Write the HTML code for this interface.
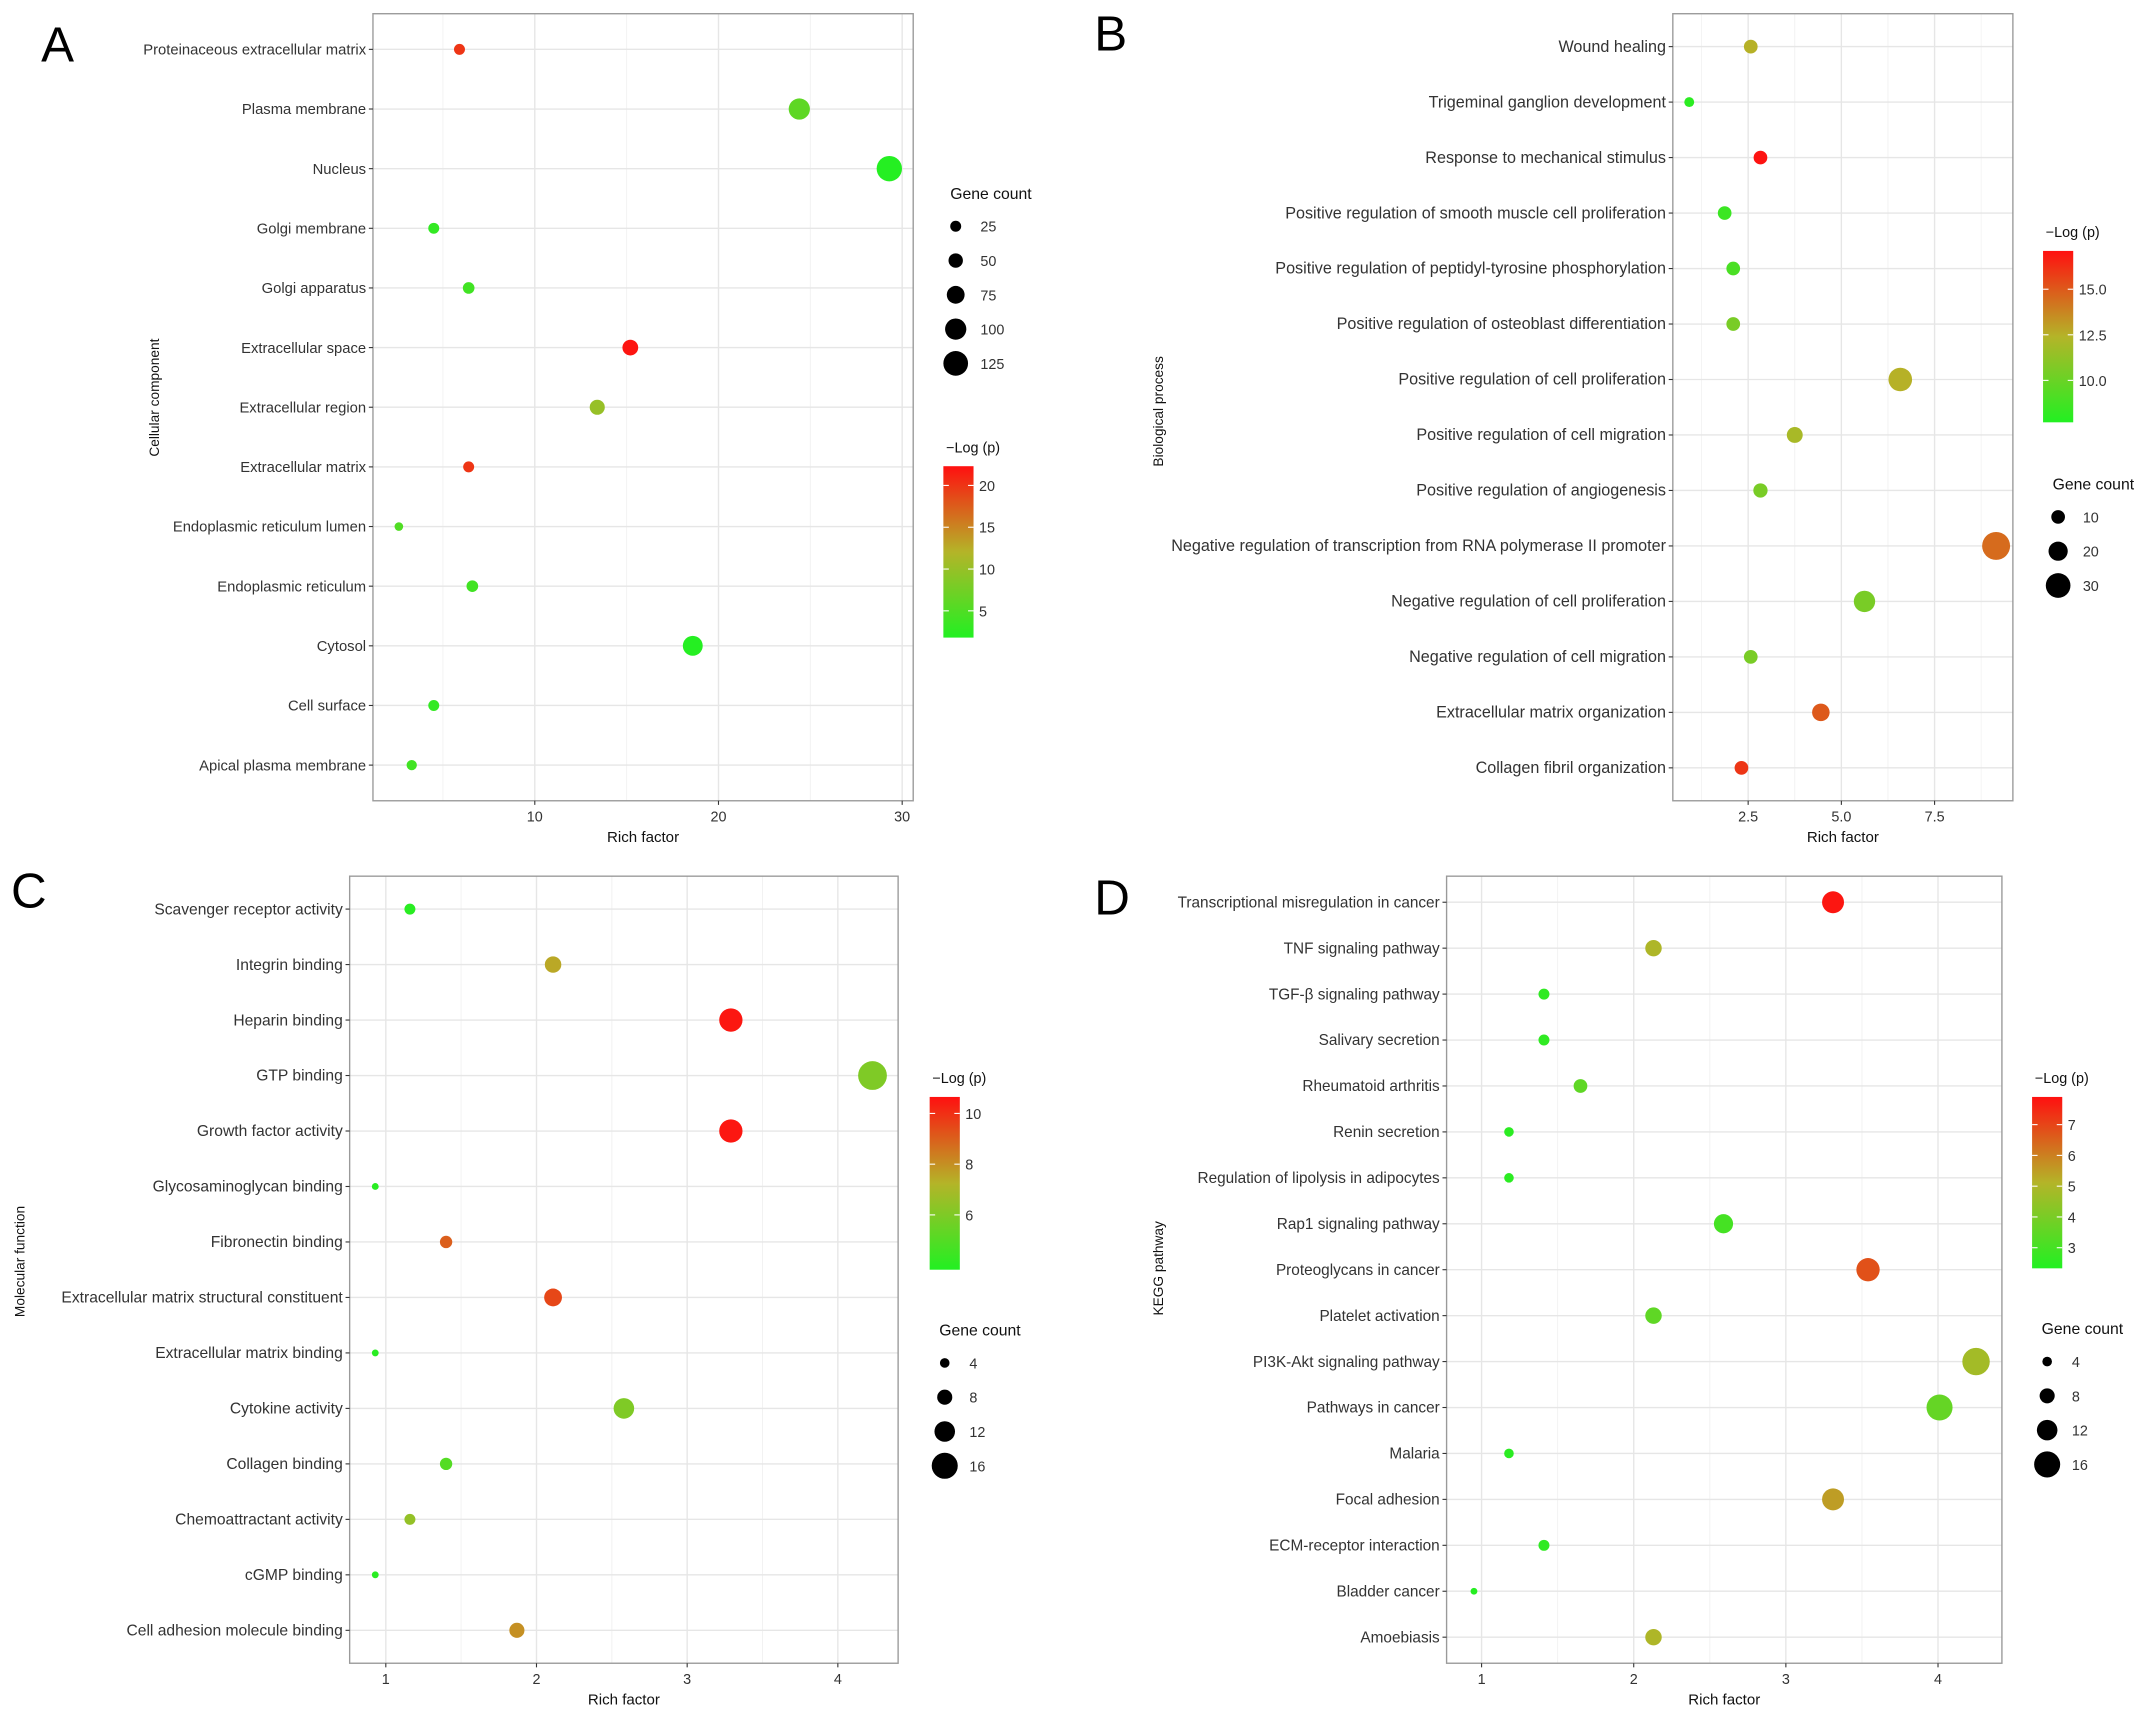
<!DOCTYPE html>
<html><head><meta charset="utf-8">
<style>
html,body{margin:0;padding:0;background:#fff;}
svg{display:block;font-family:"Liberation Sans",sans-serif;}
</style></head>
<body>
<svg id="fig" width="2150" height="1720" viewBox="0 0 1568 1254.4" preserveAspectRatio="none" xmlns="http://www.w3.org/2000/svg">
<defs>
<linearGradient id="cgrad" x1="0" y1="1" x2="0" y2="0">
<stop offset="0" stop-color="#22f022"/><stop offset="0.5" stop-color="#b4b428"/><stop offset="1" stop-color="#ff1010"/>
</linearGradient>
</defs>
</svg>
<script>
// Panel A data
const aCats=["Proteinaceous extracellular matrix","Plasma membrane","Nucleus","Golgi membrane","Golgi apparatus","Extracellular space","Extracellular region","Extracellular matrix","Endoplasmic reticulum lumen","Endoplasmic reticulum","Cytosol","Cell surface","Apical plasma membrane"];
const aRich=[5.9,24.4,29.3,4.5,6.4,15.2,13.4,6.4,2.6,6.6,18.6,4.5,3.3];
const aCount=[25,100,130,25,30,60,55,25,8,30,90,25,20];
const aLogp=[20,6,2,3,4,22,10,20,5,4,2,3,4];
const aXTicks=[10,20,30];
const aSizeTicks=[25,50,75,100,125];
const aColorTicks=[5,10,15,20];
// Panel B data
const bCats=["Wound healing","Trigeminal ganglion development","Response to mechanical stimulus","Positive regulation of smooth muscle cell proliferation","Positive regulation of peptidyl-tyrosine phosphorylation","Positive regulation of osteoblast differentiation","Positive regulation of cell proliferation","Positive regulation of cell migration","Positive regulation of angiogenesis","Negative regulation of transcription from RNA polymerase II promoter","Negative regulation of cell proliferation","Negative regulation of cell migration","Extracellular matrix organization","Collagen fibril organization"];
const bRich=[2.57,0.92,2.83,1.87,2.1,2.1,6.58,3.75,2.83,9.15,5.62,2.57,4.45,2.32];
const bCount=[10,3,10,10,10,10,28,14,11,36,24,10,17,10];
const bLogp=[12.5,8,17,8.5,9,10.5,12.5,12,10.5,14.5,10.5,10.5,15,16];
const bXTicks=[2.5,5.0,7.5];
const bSizeTicks=[10,20,30];
const bColorTicks=[10.0,12.5,15.0];
// Panel C data
const cCats=["Scavenger receptor activity","Integrin binding","Heparin binding","GTP binding","Growth factor activity","Glycosaminoglycan binding","Fibronectin binding","Extracellular matrix structural constituent","Extracellular matrix binding","Cytokine activity","Collagen binding","Chemoattractant activity","cGMP binding","Cell adhesion molecule binding"];
const cRich=[1.16,2.11,3.29,4.23,3.29,0.93,1.4,2.11,0.93,2.58,1.4,1.16,0.93,1.87];
const cCount=[5,9,14,18,14,2,6,10,2,12,6,5,2,8];
const cLogp=[4,7.5,10.5,6,10.5,4,9,9.5,4,6,5,6.5,4,8];
const cXTicks=[1,2,3,4];
const cSizeTicks=[4,8,12,16];
const cColorTicks=[6,8,10];
// Panel D data
const dCats=["Transcriptional misregulation in cancer","TNF signaling pathway","TGF-β signaling pathway","Salivary secretion","Rheumatoid arthritis","Renin secretion","Regulation of lipolysis in adipocytes","Rap1 signaling pathway","Proteoglycans in cancer","Platelet activation","PI3K-Akt signaling pathway","Pathways in cancer","Malaria","Focal adhesion","ECM-receptor interaction","Bladder cancer","Amoebiasis"];
const dRich=[3.31,2.13,1.41,1.41,1.65,1.18,1.18,2.59,3.54,2.13,4.25,4.01,1.18,3.31,1.41,0.95,2.13];
const dCount=[13,9,5,5,7,4,4,11,14,9,17,16,4,13,5,2,9];
const dLogp=[7.8,5,2.6,2.6,3.5,2.5,2.5,3,6.8,3.5,4.8,3.6,2.5,5.5,2.6,2.4,5];
const dXTicks=[1,2,3,4];
const dSizeTicks=[4,8,12,16];
const dColorTicks=[3,4,5,6,7];

const NS="http://www.w3.org/2000/svg";
const svg=document.getElementById('fig');
function mk(tag,attrs,parent){const e=document.createElementNS(NS,tag);for(const k in attrs)e.setAttribute(k,attrs[k]);(parent||svg).appendChild(e);return e;}
function hex(c){return [parseInt(c.substr(1,2),16),parseInt(c.substr(3,2),16),parseInt(c.substr(5,2),16)];}
const stops=[hex("#22f022"),hex("#b4b428"),hex("#ff1010")];
function colorAt(t){t=Math.max(0,Math.min(1,t));let a,b,u;if(t<0.5){a=stops[0];b=stops[1];u=t/0.5;}else{a=stops[1];b=stops[2];u=(t-0.5)/0.5;}return "rgb("+a.map((v,i)=>Math.round(v+(b[i]-v)*u)).join(",")+")";}

function panel(p){
  const g=mk('g',{});
  
  
  const xs=v=>p.x0+(v-p.dmin)/(p.dmax-p.dmin)*(p.x1-p.x0);
  const n=p.cats.length;
  const ys=i=>p.y0+p.pad+i*(p.y1-p.y0-2*p.pad)/(n-1);
  const cs=v=>(v-p.cmin)/(p.cmax-p.cmin);
  const rs=c=>p.ra+p.rb*c;
  for(let i=0;i<p.xt.length;i++){
    const step=p.xt.length>1?p.xt[1]-p.xt[0]:10;
    [p.xt[i]-step/2,p.xt[i]+step/2].forEach(m=>{if(m>p.dmin&&m<p.dmax){const l=mk('line',{x1:xs(m),x2:xs(m),y1:p.y0,y2:p.y1,stroke:'#f2f2f2','stroke-width':0.6},g);}});
  }
  p.xt.forEach(t=>{const l=mk('line',{x1:xs(t),x2:xs(t),y1:p.y0,y2:p.y1,stroke:'#e6e6e6','stroke-width':1},g);});
  p.cats.forEach((c,i)=>{const l=mk('line',{x1:p.x0,x2:p.x1,y1:ys(i),y2:ys(i),stroke:'#e6e6e6','stroke-width':1},g);});
  const box=mk('rect',{x:p.x0,y:p.y0,width:p.x1-p.x0,height:p.y1-p.y0,fill:'none',stroke:'#9a9a9a','stroke-width':1},g);
  
  p.cats.forEach((c,i)=>{
    const t=mk('text',{x:p.x0-5,y:ys(i)+3.8,'font-size':p.fs,'text-anchor':'end',fill:'#333'},g);t.textContent=c;
    
    mk('line',{x1:p.x0-3,x2:p.x0,y1:ys(i),y2:ys(i),stroke:'#333','stroke-width':0.8},g);
  });
  p.xt.forEach(v=>{
    const t=mk('text',{x:xs(v),y:p.y1+15,'font-size':10.5,'text-anchor':'middle',fill:'#333'},g);t.textContent=String(p.xtl?v.toFixed(1):v);
    
    mk('line',{x1:xs(v),x2:xs(v),y1:p.y1,y2:p.y1+3,stroke:'#333','stroke-width':0.8},g);
  });
  const xt=mk('text',{x:(p.x0+p.x1)/2,y:p.y1+30,'font-size':11,'text-anchor':'middle',fill:'#111'},g);xt.textContent='Rich factor';
  
  const yt=mk('text',{x:0,y:0,'font-size':10,'text-anchor':'middle',fill:'#111',transform:`translate(${p.ytx},${p.yty}) rotate(-90)`},g);yt.textContent=p.ytitle;
  
  const L=mk('text',{x:p.lx,y:p.ly,'font-size':36,fill:'#000'},g);L.textContent=p.letter;
  
  p.cats.forEach((c,i)=>{
    const d=mk('circle',{cx:xs(p.rich[i]),cy:ys(i),r:rs(p.count[i]),fill:colorAt(cs(p.logp[i]))},g);
    
  });
  const st=mk('text',{x:p.sx-4,y:p.sy-20,'font-size':11.5,fill:'#111'},g);st.textContent='Gene count';
  
  p.st.forEach((v,i)=>{
    const d=mk('circle',{cx:p.sx,cy:p.sy+i*25,r:rs(v),fill:'#000'},g);
    
    const t=mk('text',{x:p.sx+18,y:p.sy+i*25+4,'font-size':10.5,fill:'#333'},g);t.textContent=String(v);
    
  });
  const ct=mk('text',{x:p.cx+2,y:p.cy0-10,'font-size':10.5,fill:'#111'},g);ct.textContent='−Log (p)';
  
  const cb=mk('rect',{x:p.cx,y:p.cy0,width:22,height:p.cy1-p.cy0,fill:'url(#cgrad)'},g);
  
  p.ct.forEach(v=>{
    const y=p.cy1-(v-p.cmin)/(p.cmax-p.cmin)*(p.cy1-p.cy0);
    mk('line',{x1:p.cx,x2:p.cx+4,y1:y,y2:y,stroke:'#fff','stroke-width':0.8},g);
    mk('line',{x1:p.cx+18,x2:p.cx+22,y1:y,y2:y,stroke:'#fff','stroke-width':0.8},g);
    const t=mk('text',{x:p.cx+26,y:y+4,'font-size':10.5,fill:'#333'},g);t.textContent=p.ctl?v.toFixed(1):String(v);
    
  });
}

panel({name:'panel-a-cellular-component',cats:aCats,rich:aRich,count:aCount,logp:aLogp,xt:aXTicks,st:aSizeTicks,ct:aColorTicks,fs:10.8,
 x0:272,x1:666,y0:10,y1:584,pad:26,dmin:1.19,dmax:30.6,cmin:1.8,cmax:22.3,ra:2.75,rb:0.05,
 ytitle:'Cellular component',ytx:116,yty:290,letter:'A',lx:30,ly:45,sx:697,sy:165,cx:688,cy0:340,cy1:465});
panel({name:'panel-b-biological-process',cats:bCats,rich:bRich,count:bCount,logp:bLogp,xt:bXTicks,xtl:true,st:bSizeTicks,ct:bColorTicks,ctl:true,fs:11.8,
 x0:1220,x1:1468,y0:10,y1:584,pad:24,dmin:0.48,dmax:9.6,cmin:7.7,cmax:17.1,ra:3,rb:0.2,
 ytitle:'Biological process',ytx:848,yty:300,letter:'B',lx:798,ly:37,sx:1501,sy:377,cx:1490,cy0:183,cy1:308});
panel({name:'panel-c-molecular-function',cats:cCats,rich:cRich,count:cCount,logp:cLogp,xt:cXTicks,st:cSizeTicks,ct:cColorTicks,fs:11.4,
 x0:255,x1:655,y0:639,y1:1213,pad:24,dmin:0.76,dmax:4.4,cmin:3.84,cmax:10.65,ra:1.5,rb:0.5,
 ytitle:'Molecular function',ytx:18,yty:920,letter:'C',lx:8,ly:662,sx:689,sy:994,cx:678,cy0:800,cy1:926});
panel({name:'panel-d-kegg-pathway',cats:dCats,rich:dRich,count:dCount,logp:dLogp,xt:dXTicks,st:dSizeTicks,ct:dColorTicks,fs:11.2,
 x0:1055,x1:1460,y0:639,y1:1213,pad:19,dmin:0.77,dmax:4.42,cmin:2.33,cmax:7.9,ra:1.5,rb:0.5,
 ytitle:'KEGG pathway',ytx:848,yty:925,letter:'D',lx:798,ly:667,sx:1493,sy:993,cx:1482,cy0:800,cy1:925});
</script>
</body></html>
